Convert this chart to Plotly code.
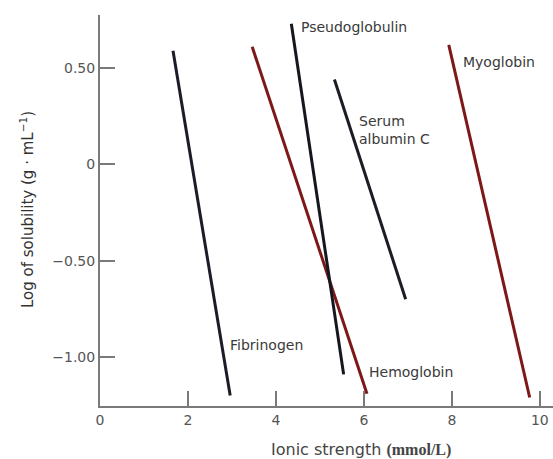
import plotly.graph_objects as go

proteins = ["Fibrinogen", "Hemoglobin", "Pseudoglobulin", "Serum albumin C", "Myoglobin"]
x_start = [1.66, 3.46, 4.35, 5.33, 7.93]
x_end = [2.96, 6.07, 5.54, 6.95, 9.77]
y_start = [0.59, 0.61, 0.73, 0.44, 0.62]
y_end = [-1.20, -1.19, -1.09, -0.70, -1.21]
colors = ["#1c1c28", "#7d1818", "#16161e", "#1c1c24", "#7d1818"]

label_text = ["Fibrinogen", "Hemoglobin", "Pseudoglobulin", "Serum<br>albumin C", "Myoglobin"]
label_x = [2.92, 6.08, 4.52, 5.85, 8.2]
label_y = [-0.94, -1.08, 0.713, 0.18, 0.53]

x_ticks = [0, 2, 4, 6, 8, 10]
y_ticks = [0.5, 0, -0.5, -1.0]
y_tick_text = ["0.50", "0", "\u22120.50", "\u22121.00"]

SANS = "DejaVu Sans"

fig = go.Figure()
for i, p in enumerate(proteins):
    fig.add_trace(go.Scatter(
        x=[x_start[i], x_end[i]], y=[y_start[i], y_end[i]],
        mode="lines", line=dict(color=colors[i], width=3),
        name=p, showlegend=False, hoverinfo="skip"))

for t, x, y in zip(label_text, label_x, label_y):
    fig.add_annotation(x=x, y=y, text=t, showarrow=False, xanchor="left",
                       yanchor="middle", align="left",
                       font=dict(family=SANS, size=14, color="#3a3a3a"))

fig.add_annotation(xref="paper", yref="paper", x=(361 - 100) / 453, y=-(449 - 406) / 391,
                   text="Ionic strength <b><span style='font-family:Liberation Serif'>(mmol/L)</span></b>",
                   showarrow=False, xanchor="center", yanchor="middle",
                   font=dict(family=SANS, size=16, color="#444"))
fig.add_annotation(xref="paper", yref="paper", x=-(100 - 27) / 453, y=(406 - 210) / 391,
                   text="Log of solubility (g \u00b7 mL<sup>\u22121</sup>)", textangle=-90,
                   showarrow=False, xanchor="center", yanchor="middle",
                   font=dict(family=SANS, size=15, color="#333"))

axis_common = dict(showline=True, linecolor="#7a7a7a", linewidth=2, ticks="inside",
                   ticklen=15, tickwidth=2, tickcolor="#7a7a7a", showgrid=False,
                   zeroline=False, tickfont=dict(family=SANS, size=14, color="#555"))

fig.update_layout(
    width=553, height=459,
    margin=dict(l=100, r=0, t=15, b=53),
    paper_bgcolor="white", plot_bgcolor="white",
    xaxis=dict(range=[0, 10.3], tickvals=x_ticks, **axis_common),
    yaxis=dict(range=[-1.254, 0.775], tickvals=y_ticks, ticktext=y_tick_text, **axis_common),
)
fig.write_html("out.html", config={"displayModeBar": False},
               post_script="document.body.style.margin='0';document.body.style.padding='0';")
